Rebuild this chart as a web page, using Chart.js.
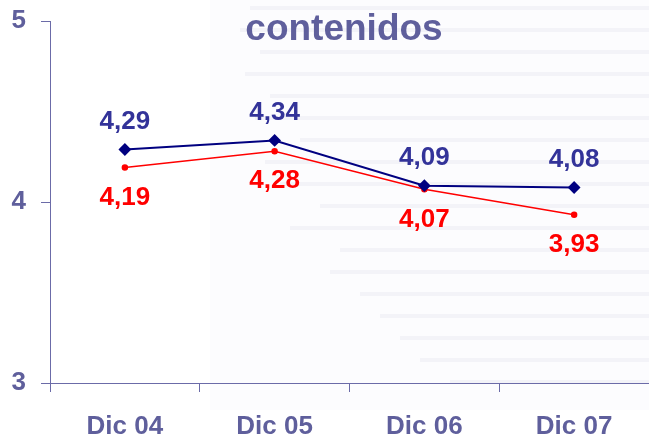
<!DOCTYPE html>
<html lang="es">
<head>
  <meta charset="UTF-8" />
  <title>contenidos</title>
  <script src="https://cdn.jsdelivr.net/npm/chart.js"></script>
  <style>
    html, body { margin: 0; padding: 0; background: #fff; }
    #wrap { width: 649px; height: 437px; }
  </style>
</head>
<body>
  <div id="wrap"><canvas id="chart" width="649" height="437"></canvas></div>

  <script>
    const categories = ['Dic 04', 'Dic 05', 'Dic 06', 'Dic 07'];
    const serieAzul = [4.29, 4.34, 4.09, 4.08];
    const serieRoja = [4.19, 4.28, 4.07, 3.93];
    const yTicks = [3, 4, 5];

    const axisColor = '#6b6ba8';
    const textColor = '#5f5f9c';
    const font = 'bold 26px Arial, "Liberation Sans", sans-serif';

    // faint striped panel behind the right part of the chart
    const backdrop = {
      id: 'backdrop',
      beforeDraw(chart) {
        const ctx = chart.ctx;
        ctx.save();
        ctx.fillStyle = '#fcfcfe';
        ctx.fillRect(210, 0, 439, 410);
        ctx.strokeStyle = 'rgba(232,232,242,0.45)';
        ctx.lineWidth = 4;
        const starts = [250, 240, 260, 245, 270, 255, 300, 265, 280, 320, 290, 340, 330, 360, 380, 400, 420, 450];
        starts.forEach((x0, i) => {
          const y = 8 + i * 22;
          ctx.beginPath();
          ctx.moveTo(x0, y);
          ctx.lineTo(649, y);
          ctx.stroke();
        });
        ctx.restore();
      }
    };

    const overlay = {
      id: 'overlay',
      afterDatasetsDraw(chart) {
        const ctx = chart.ctx;
        ctx.save();
        ctx.textAlign = 'center';
        ctx.textBaseline = 'middle';
        ctx.fillStyle = textColor;
        ctx.font = 'bold 37px Arial, "Liberation Sans", sans-serif';
        ctx.fillText('contenidos', 344, 30);

        ctx.font = font;
        const blue = chart.getDatasetMeta(0).data;
        const red = chart.getDatasetMeta(1).data;
        blue.forEach((p, i) => {
          ctx.fillStyle = '#333399';
          ctx.fillText(serieAzul[i].toFixed(2).replace('.', ','), p.x, p.y - 28);
        });
        red.forEach((p, i) => {
          ctx.fillStyle = '#ff0000';
          ctx.fillText(serieRoja[i].toFixed(2).replace('.', ','), p.x, p.y + 30);
        });
        ctx.restore();
      }
    };

    new Chart(document.getElementById('chart'), {
      type: 'line',
      data: {
        labels: categories,
        datasets: [
          {
            data: serieAzul,
            borderColor: '#000080',
            backgroundColor: '#000080',
            borderWidth: 2,
            pointStyle: 'rectRot',
            pointRadius: 5,
            tension: 0
          },
          {
            data: serieRoja,
            borderColor: '#ff0000',
            backgroundColor: '#ff0000',
            borderWidth: 1.5,
            pointStyle: 'circle',
            pointRadius: 2.5,
            tension: 0
          }
        ]
      },
      options: {
        responsive: false,
        animation: false,
        layout: { autoPadding: false, padding: { top: 21, right: 0, left: 0, bottom: 0 } },
        plugins: {
          legend: { display: false },
          tooltip: { enabled: false }
        },
        scales: {
          x: {
            offset: true,
            grid: {
              offset: true,
              drawOnChartArea: false,
              color: axisColor,
              tickLength: 9
            },
            border: { color: axisColor, width: 1 },
            ticks: {
              color: textColor,
              font: { family: 'Arial, "Liberation Sans", sans-serif', size: 26, weight: 'bold' },
              padding: 19,
              maxRotation: 0
            },
            afterFit(scale) {
              scale.height = 54;
              scale.paddingLeft = 0;
              scale.paddingRight = 0;
            }
          },
          y: {
            min: 3,
            max: 5,
            afterBuildTicks(scale) { scale.ticks = yTicks.map(v => ({ value: v })); },
            grid: {
              drawOnChartArea: false,
              color: axisColor,
              tickLength: 9
            },
            border: { color: axisColor, width: 1 },
            ticks: {
              color: textColor,
              font: { family: 'Arial, "Liberation Sans", sans-serif', size: 26, weight: 'bold' },
              padding: 15
            },
            afterFit(scale) {
              scale.width = 50;
              scale.paddingTop = 0;
              scale.paddingBottom = 0;
            }
          }
        }
      },
      plugins: [backdrop, overlay]
    });
  </script>
</body>
</html>
